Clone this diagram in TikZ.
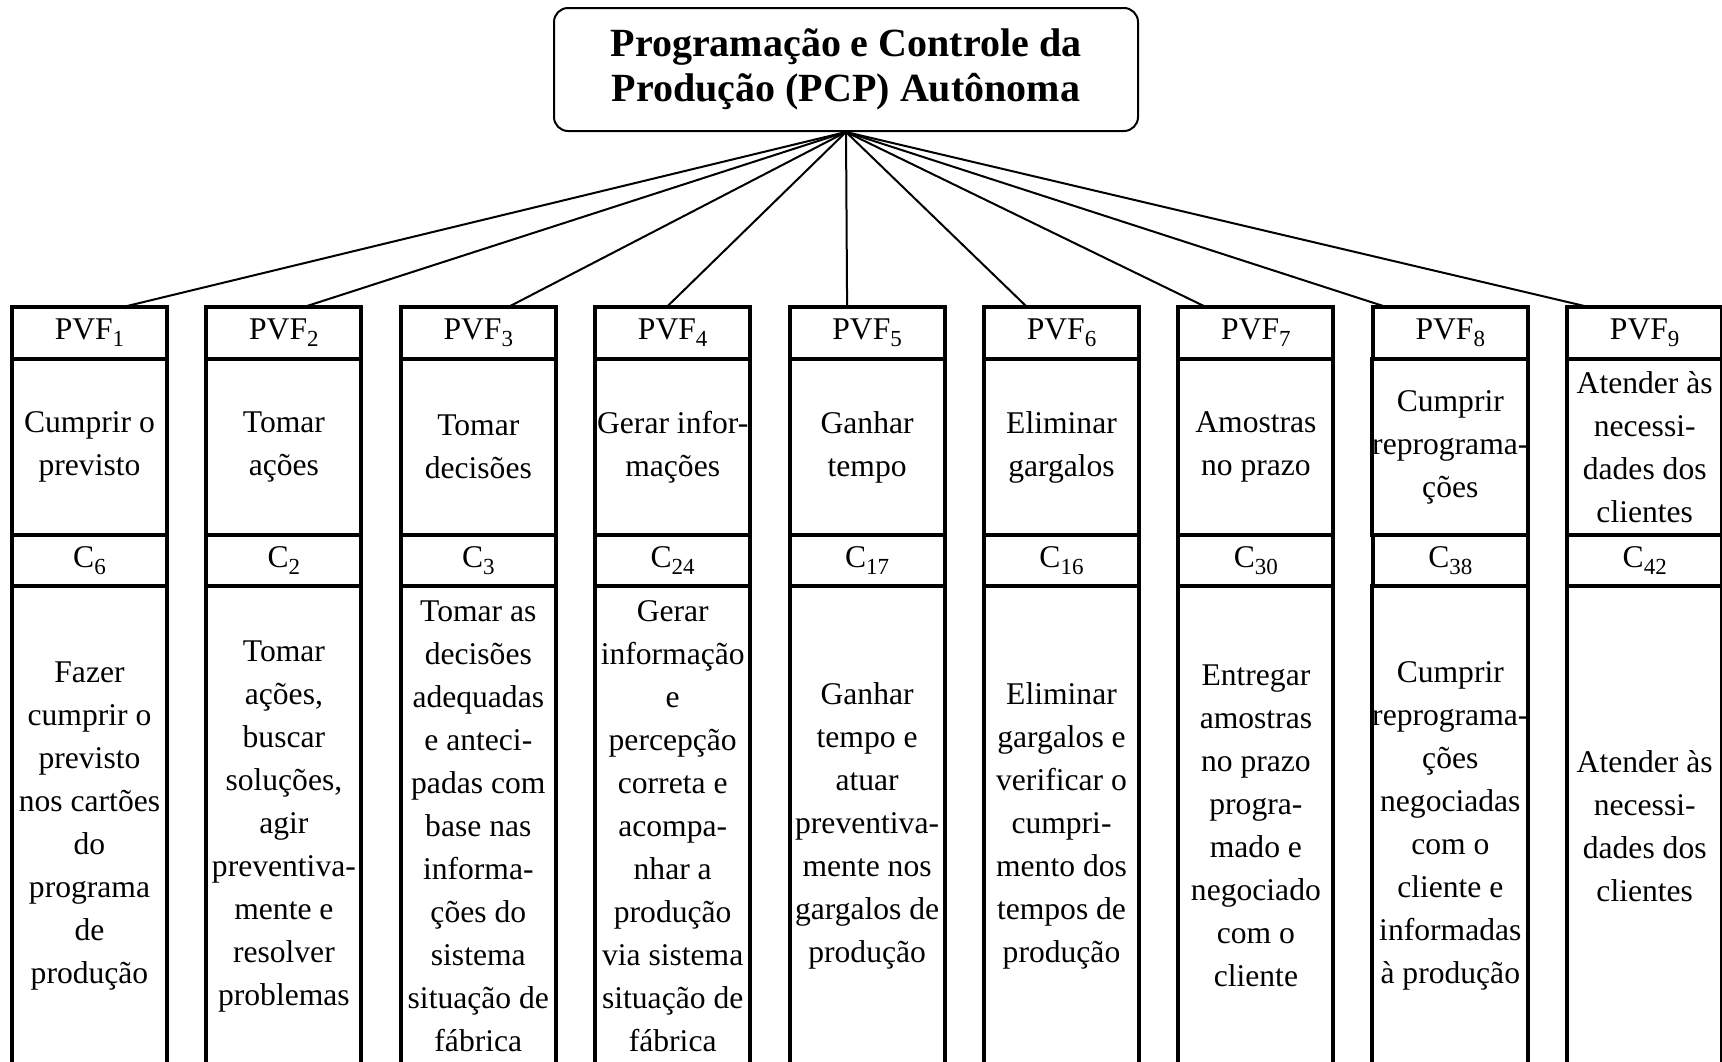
\documentclass[tikz,border=0pt]{standalone}
\usepackage{fontspec}
\setmainfont{Liberation Serif}
\usetikzlibrary{positioning}
\newcommand{\lowidx}[1]{\raisebox{-0.5ex}{\fontsize{11.5}{11.5}\selectfont #1}}

\begin{document}
\begin{tikzpicture}[
    x=0.5pt, y=-0.5pt,
    node distance=0pt,
    cell/.style={rectangle, draw, line width=2pt, outer sep=0pt, inner sep=0pt, align=center, minimum width=77.5pt, font=\fontsize{15.8}{21.5}\selectfont},
    pvf/.style={cell, minimum height=26pt, anchor=north},
    req/.style={cell, minimum height=88pt},
    crit/.style={cell, minimum height=25.5pt},
    desc/.style={cell, minimum height=240pt},
    link/.style={line width=1pt}
  ]
    \useasboundingbox (0,0) rectangle (1722,1061);
    \node[draw, rounded corners=7pt, line width=1pt, inner sep=0pt, minimum width=292pt, minimum height=61.5pt, align=center, font=\fontsize{20}{22.5}\selectfont\bfseries] (pcp) at (846,69.5) {Programação e Controle da\\Produção (PCP) Autônoma};

    % PVF 1
    \node[pvf] (pvf1) at (89.5,307) {PVF\lowidx{1}};
    \node[req, below=of pvf1] (req1) {Cumprir o\\previsto};
    \node[crit, below=of req1] (c1) {C\lowidx{6}};
    \node[desc, below=of c1] (d1) {Fazer\\cumprir o\\previsto\\nos cartões\\do\\programa\\de\\produção};
    % PVF 2
    \node[pvf] (pvf2) at (283.9,307) {PVF\lowidx{2}};
    \node[req, below=of pvf2] (req2) {Tomar\\ações};
    \node[crit, below=of req2] (c2) {C\lowidx{2}};
    \node[desc, below=of c2] (d2) {Tomar\\ações,\\buscar\\soluções,\\agir\\preventiva-\\mente e\\resolver\\problemas};
    % PVF 3
    \node[pvf] (pvf3) at (478.3,307) {PVF\lowidx{3}};
    \node[req, below=of pvf3] (req3) {Tomar\\decisões};
    \node[crit, below=of req3] (c3) {C\lowidx{3}};
    \node[desc, below=of c3] (d3) {Tomar as\\decisões\\adequadas\\e anteci-\\padas com\\base nas\\informa-\\ções do\\sistema\\situação de\\fábrica};
    % PVF 4
    \node[pvf] (pvf4) at (672.7,307) {PVF\lowidx{4}};
    \node[req, below=of pvf4] (req4) {Gerar infor-\\mações};
    \node[crit, below=of req4] (c4) {C\lowidx{24}};
    \node[desc, below=of c4] (d4) {Gerar\\informação\\e\\percepção\\correta e\\acompa-\\nhar a\\produção\\via sistema\\situação de\\fábrica};
    % PVF 5
    \node[pvf] (pvf5) at (867.1,307) {PVF\lowidx{5}};
    \node[req, below=of pvf5] (req5) {Ganhar\\tempo};
    \node[crit, below=of req5] (c5) {C\lowidx{17}};
    \node[desc, below=of c5] (d5) {Ganhar\\tempo e\\atuar\\preventiva-\\mente nos\\gargalos de\\produção};
    % PVF 6
    \node[pvf] (pvf6) at (1061.5,307) {PVF\lowidx{6}};
    \node[req, below=of pvf6] (req6) {Eliminar\\gargalos};
    \node[crit, below=of req6] (c6) {C\lowidx{16}};
    \node[desc, below=of c6] (d6) {Eliminar\\gargalos e\\verificar o\\cumpri-\\mento dos\\tempos de\\produção};
    % PVF 7
    \node[pvf] (pvf7) at (1255.9,307) {PVF\lowidx{7}};
    \node[req, below=of pvf7] (req7) {Amostras\\no prazo};
    \node[crit, below=of req7] (c7) {C\lowidx{30}};
    \node[desc, below=of c7] (d7) {Entregar\\amostras\\no prazo\\progra-\\mado e\\negociado\\com o\\cliente};
    % PVF 8
    \node[pvf] (pvf8) at (1450.3,307) {PVF\lowidx{8}};
    \node[req, below=of pvf8] (req8) {Cumprir\\reprograma-\\ções};
    \node[crit, below=of req8] (c8) {C\lowidx{38}};
    \node[desc, below=of c8] (d8) {Cumprir\\reprograma-\\ções\\negociadas\\com o\\cliente e\\informadas\\à produção};
    % PVF 9
    \node[pvf] (pvf9) at (1644.7,307) {PVF\lowidx{9}};
    \node[req, below=of pvf9] (req9) {Atender às\\necessi-\\dades dos\\clientes};
    \node[crit, below=of req9] (c9) {C\lowidx{42}};
    \node[desc, below=of c9] (d9) {Atender às\\necessi-\\dades dos\\clientes};

    \draw[link] (pcp.south) -- ([xshift=16.75pt]pvf1.north);
    \draw[link] (pcp.south) -- ([xshift=10pt]pvf2.north);
    \draw[link] (pcp.south) -- ([xshift=15pt]pvf3.north);
    \draw[link] (pcp.south) -- ([xshift=-3pt]pvf4.north);
    \draw[link] (pcp.south) -- ([xshift=-10pt]pvf5.north);
    \draw[link] (pcp.south) -- ([xshift=-17.25pt]pvf6.north);
    \draw[link] (pcp.south) -- ([xshift=-25pt]pvf7.north);
    \draw[link] (pcp.south) -- ([xshift=-32pt]pvf8.north);
    \draw[link] (pcp.south) -- ([xshift=-28pt]pvf9.north);
  \end{tikzpicture}
\end{document}
